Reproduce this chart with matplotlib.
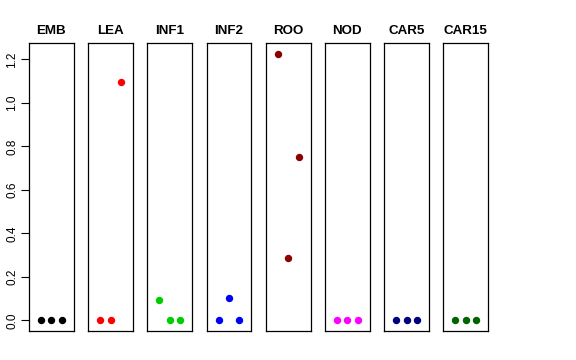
import matplotlib
matplotlib.use("Agg")
import matplotlib.pyplot as plt

plt.rcParams['font.family'] = ['Liberation Sans', 'DejaVu Sans']

# sample groups and their three replicate values
groups = ["EMB", "LEA", "INF1", "INF2", "ROO", "NOD", "CAR5", "CAR15"]
colors = ["black", "red", "#00CD00", "blue", "#8B0000", "magenta", "#000080", "#006400"]
values = [
    [0.0, 0.0, 0.0],
    [0.0, 0.0, 1.094],
    [0.092, 0.0, 0.0],
    [0.0, 0.104, 0.0],
    [1.226, 0.286, 0.752],
    [0.0, 0.0, 0.0],
    [0.0, 0.0, 0.0],
    [0.0, 0.0, 0.0],
]
reps = [1, 2, 3]
yticks = [0.0, 0.2, 0.4, 0.6, 0.8, 1.0, 1.2]

W, H = 576, 360
fig = plt.figure(figsize=(W / 100, H / 100), dpi=100)

ymax = max(max(v) for v in values)
ylim = (-0.04 * ymax, ymax * 1.04)

left0, step, width = 29, 59.2, 44.8
top, bottom = 43, 331

for i, g in enumerate(groups):
    ax = fig.add_axes([(left0 + i * step) / W, (H - bottom) / H,
                       width / W, (bottom - top) / H])
    ax.plot(reps, values[i], 'o', color=colors[i], markersize=4.3)
    ax.set_xlim(-0.16, 4.16)
    ax.set_ylim(*ylim)
    ax.set_xticks([])
    for s in ax.spines.values():
        s.set_linewidth(0.9)
    ax.set_title(g, fontsize=9.6, fontweight='bold', pad=6.5)
    if i == 0:
        ax.set_yticks(yticks)
        ax.set_yticklabels(["%.1f" % t for t in yticks], rotation=90,
                           va='center', fontsize=8.5)
        ax.tick_params(axis='y', length=5.8, width=0.8, pad=2)
    else:
        ax.set_yticks([])

fig.savefig("out.png", dpi=100)
